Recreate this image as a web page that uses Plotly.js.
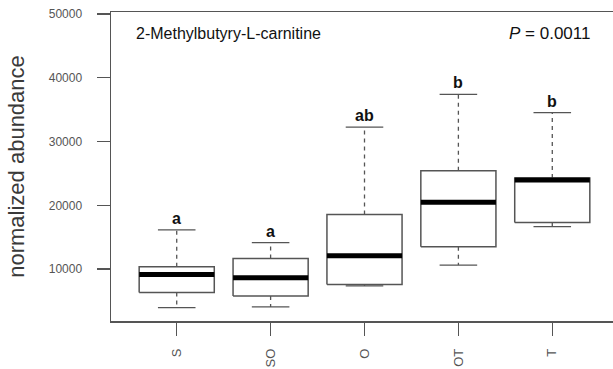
<!DOCTYPE html>
<html><head><meta charset="utf-8">
<script src="https://cdn.plot.ly/plotly-3.0.1.min.js"></script>
<style>html,body{margin:0;padding:0;overflow:hidden;background:#fff}#chart{width:640px;height:369px}</style>
</head><body><div id="chart"></div>
<script>
// ---- data ----
const groups = ["S", "SO", "O", "OT", "T"];
const lowerWhisker = [3970, 4070, 7370, 10630, 16660];
const q1 = [6330, 5800, 7590, 13510, 17290];
const median = [9170, 8630, 12100, 20500, 23950];
const q3 = [10370, 11680, 18550, 25430, 24300];
const upperWhisker = [16140, 14140, 32250, 37400, 34520];
const sigLetters = ["a", "a", "ab", "b", "b"];
const yTicks = [10000, 20000, 30000, 40000, 50000];
const yTickLabels = ["10000", "20000", "30000", "40000", "50000"];
const metabolite = "2-Methylbutyry-L-carnitine";
const pLabel = "<i>P</i> = 0.0011";
const yTitle = "normalized abundance";

// ---- build marks ----
const HALF = 0.4, CAP = 0.2;
const boxX = [], boxY = [], medX = [], medY = [], whX = [], whY = [], capX = [], capY = [];
groups.forEach((g, i) => {
  const c = i + 1;
  boxX.push(c - HALF, c + HALF, c + HALF, c - HALF, c - HALF, null);
  boxY.push(q1[i], q1[i], q3[i], q3[i], q1[i], null);
  medX.push(c - HALF, c + HALF, null);
  medY.push(median[i], median[i], null);
  whX.push(c, c, null, c, c, null);
  whY.push(q3[i], upperWhisker[i], null, q1[i], lowerWhisker[i], null);
  capX.push(c - CAP, c + CAP, null, c - CAP, c + CAP, null);
  capY.push(upperWhisker[i], upperWhisker[i], null, lowerWhisker[i], lowerWhisker[i], null);
});
const grey = "#555555";
const traces = [
  {x: whX, y: whY, mode: "lines", line: {color: grey, width: 1.3, dash: "4px,4px"}, hoverinfo: "skip"},
  {x: capX, y: capY, mode: "lines", line: {color: grey, width: 1.3}, hoverinfo: "skip"},
  {x: boxX, y: boxY, mode: "lines", fill: "toself", fillcolor: "#ffffff", line: {color: grey, width: 1.5}, hoverinfo: "skip"},
  {x: medX, y: medY, mode: "lines", line: {color: "#000000", width: 5}, hoverinfo: "skip"}
];

const annotations = groups.map((g, i) => ({
  x: i + 1, y: upperWhisker[i], xref: "x", yref: "y", text: sigLetters[i],
  showarrow: false, yanchor: "bottom", yshift: 1,
  font: {family: "Liberation Sans, Arial, sans-serif", size: 16, color: "#111", weight: "bold"}
}));
annotations.push({
  x: 0.0454, y: 0.932, xref: "paper", yref: "paper", text: metabolite, showarrow: false,
  xanchor: "left", yanchor: "middle",
  font: {family: "Liberation Sans, Arial, sans-serif", size: 16, color: "#111"}
});
annotations.push({
  x: 0.9495, y: 0.932, xref: "paper", yref: "paper", text: pLabel, showarrow: false,
  xanchor: "right", yanchor: "middle",
  font: {family: "Liberation Sans, Arial, sans-serif", size: 17, color: "#111"}
});

const layout = {
  width: 640, height: 369,
  margin: {l: 111, r: 22.4, t: 12, b: 48, pad: 0},
  paper_bgcolor: "#ffffff", plot_bgcolor: "#ffffff",
  showlegend: false,
  font: {family: "Liberation Sans, Arial, sans-serif", color: grey},
  xaxis: {
    range: [0.3, 5.7], tickvals: groups.map((g, i) => i + 1), ticktext: groups,
    tickangle: -90, ticks: "outside", ticklen: 13, tickwidth: 1.5, tickcolor: grey,
    ticklabelstandoff: 8,
    showline: true, linecolor: grey, linewidth: 1.5, mirror: true,
    showgrid: false, zeroline: false,
    tickfont: {size: 13, color: grey}
  },
  yaxis: {
    range: [1870, 50300], tickvals: yTicks, ticktext: yTickLabels,
    ticks: "outside", ticklen: 13, tickwidth: 1.5, tickcolor: grey,
    ticklabelstandoff: 12,
    showline: true, linecolor: grey, linewidth: 1.5, mirror: true,
    showgrid: false, zeroline: false,
    tickfont: {size: 12, color: grey},
    title: {text: yTitle, standoff: 18, font: {size: 22, color: "#3a3a3a"}}
  },
  annotations: annotations
};
Plotly.newPlot("chart", traces, layout, {staticPlot: true, displayModeBar: false});
</script></body></html>
